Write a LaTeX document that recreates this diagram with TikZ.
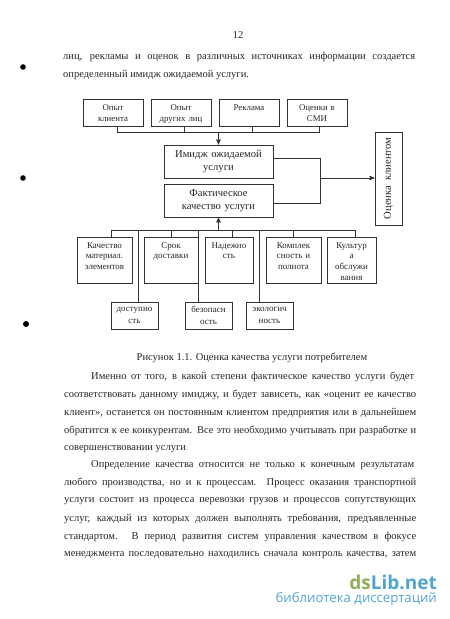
\documentclass[tikz,border=0pt]{standalone}
\usepackage{fontspec}
\setmainfont{Liberation Serif}
\newfontfamily\markfont{Open Sans}
\usepackage{tikz}
\usetikzlibrary{arrows}
\definecolor{markgreen}{HTML}{8FAE55}
\definecolor{markblue}{HTML}{52A3D0}
\newcommand{\fullline}[1]{\makebox[352pt][s]{#1}}
\newcommand{\firstline}[1]{\makebox[323pt][s]{#1}}
\tikzset{
  box/.style={draw=black!80,line width=.9pt,align=center,inner sep=1pt,
              text=black!85},
  topbox/.style={box,font=\fontsize{8.8}{11}\selectfont,text width=58pt,
                 text height=10pt,text depth=15pt},
  midbox/.style={box,font=\fontsize{10.6}{13.5}\selectfont,text width=107pt,
                 minimum height=33pt},
  leafbox/.style={box,font=\fontsize{9}{10.8}\selectfont,
                  text height=10pt,text depth=34pt},
  lowbox/.style={box,font=\fontsize{9}{11.5}\selectfont,text width=45pt,
                 minimum height=27pt},
  bodyline/.style={anchor=west,inner sep=0pt,text=black!85,
                   font=\fontsize{10.5}{12}\selectfont},
  wire/.style={draw=black!80,line width=.9pt},
  arrowwire/.style={wire,->,>=stealth'}
}
\begin{document}
\begin{tikzpicture}[x=1pt,y=-1pt,node distance=68pt]
  \path[use as bounding box] (0,0) rectangle (450,619);

  % page text above the figure
  \node[bodyline,anchor=center] (Page) at (238,35) {12};
  \node[bodyline] (L1) at (63,57) {\fullline{лиц, рекламы и оценок в различных источниках информации создается}};
  \node[bodyline] (L2) at (63,75) {определенный имидж ожидаемой услуги.};

  % sources of the image
  \node[topbox] (Exp) at (113,112.5) {Опыт\\клиента};
  \node[topbox] (Other) [right of=Exp] {Опыт\\других лиц};
  \node[topbox] (Ads) [right of=Other] {Реклама};
  \node[topbox] (Media) [right of=Ads] {Оценки в\\СМИ};

  \node[midbox] (Image) at (218.5,161.5) {Имидж ожидаемой\\услуги};
  \node[midbox] (Fact) at (218.5,200.5) {Фактическое\\качество услуги};
  \node[box,font=\fontsize{10.6}{12}\selectfont,rotate=90,minimum width=93pt,
        minimum height=27pt,inner sep=0pt] (Client) at (388.5,178.5) {Оценка~~клиентом};

  % quality factors
  \node[leafbox,text width=53pt] (Mat) at (104.5,260) {Качество\\материал.\\элементов};
  \node[leafbox,text width=52pt] (Term) at (171,260) {Срок\\доставки};
  \node[leafbox,text width=46pt] (Rel) at (229,260) {Надежно\\сть};
  \node[leafbox,text width=53pt] (Compl) at (293.5,260) {Комплек\\сность и\\полнота};
  \node[leafbox,text width=47pt] (Cult) at (351.5,260) {Культур\\а\\обслужи\\вания};
  \node[lowbox] (Acc) at (134.5,315.5) {доступно\\сть};
  \node[lowbox] (Safe) at (208.5,315.5) {безопасн\\ость};
  \node[lowbox] (Eco) at (269.5,315.5) {экологич\\ность};

  \coordinate (busA) at (117,132);
  \coordinate (busB) at (184,132);
  \coordinate (busC) at (252,132);
  \coordinate (busD) at (319,132);
  \coordinate (busIn) at (218.5,132);
  \coordinate (imgOut) at (320,158);
  \coordinate (factOut) at (320,203);
  \coordinate (judge) at (320,178);
  \coordinate (dropA) at (111,230);
  \coordinate (dropB) at (138,230);
  \coordinate (dropC) at (171,230);
  \coordinate (dropD) at (198,230);
  \coordinate (dropE) at (218.5,230);
  \coordinate (dropF) at (232,230);
  \coordinate (dropG) at (259,230);
  \coordinate (dropH) at (293,230);
  \coordinate (dropI) at (355,230);

  \path[wire] (busA |- Exp.south) -- (busA) -- (busD) -- (busD |- Media.south)
        (busB |- Other.south) -- (busB)
        (busC |- Ads.south) -- (busC)
        (imgOut -| Image.east) -- (imgOut) -- (factOut) -- (factOut -| Fact.east)
        (dropA |- Mat.north) -- (dropA) -- (dropI) -- (dropI |- Cult.north)
        (dropC) -- (dropC |- Term.north)
        (dropF) -- (dropF |- Rel.north)
        (dropH) -- (dropH |- Compl.north)
        (dropB) -- (dropB |- Acc.north)
        (dropD) -- (dropD |- Safe.north)
        (dropG) -- (dropG |- Eco.north);
  \draw[arrowwire] (busIn) -- (Image.north);
  \draw[arrowwire] (dropE) -- (Fact.south);
  \draw[arrowwire] (judge) -- (judge -| Client.north);

  % page text below the figure
  \node[bodyline,anchor=center] (Caption) at (252,358) {Рисунок 1.1. Оценка качества услуги потребителем};
  \node[bodyline] (P1) at (91,377) {\firstline{Именно от того, в какой степени фактическое качество услуги будет}};
  \node[bodyline] (P2) at (64,395) {\fullline{соответствовать данному имиджу, и будет зависеть, как «оценит ее качество}};
  \node[bodyline] (P3) at (64,413) {\fullline{клиент», останется он постоянным клиентом предприятия или в дальнейшем}};
  \node[bodyline] (P4) at (64,431) {\fullline{обратится к ее конкурентам. Все это необходимо учитывать при разработке и}};
  \node[bodyline] (P5) at (64,449) {совершенствовании услуги};
  \node[bodyline] (Q1) at (91,465) {\firstline{Определение качества относится не только к конечным результатам}};
  \node[bodyline] (Q2) at (64,483) {\fullline{любого производства, но и к процессам. Процесс оказания транспортной}};
  \node[bodyline] (Q3) at (64,501) {\fullline{услуги состоит из процесса перевозки грузов и процессов сопутствующих}};
  \node[bodyline] (Q4) at (64,519) {\fullline{услуг, каждый из которых должен выполнять требования, предъявленные}};
  \node[bodyline] (Q5) at (64,537) {\fullline{стандартом. В период развития систем управления качеством в фокусе}};
  \node[bodyline] (Q6) at (64,555) {\fullline{менеджмента последовательно находились сначала контроль качества, затем}};

  % scanner specks
  \fill[black] (23,67) circle (2.8);
  \fill[black] (23,178) circle (2.8);
  \fill[black] (26,324) circle (3);

  % site mark
  \node[anchor=east,inner sep=0pt,font=\markfont\bfseries\fontsize{19}{19}\selectfont] (Mark) at (437,582)
    {\textcolor{markgreen}{ds}\textcolor{markblue}{Lib.net}};
  \node[anchor=east,inner sep=0pt,text=markblue,font=\markfont\fontsize{13.2}{14}\selectfont] (MarkSub) at (437,599)
    {библиотека диссертаций};
\end{tikzpicture}
\end{document}
